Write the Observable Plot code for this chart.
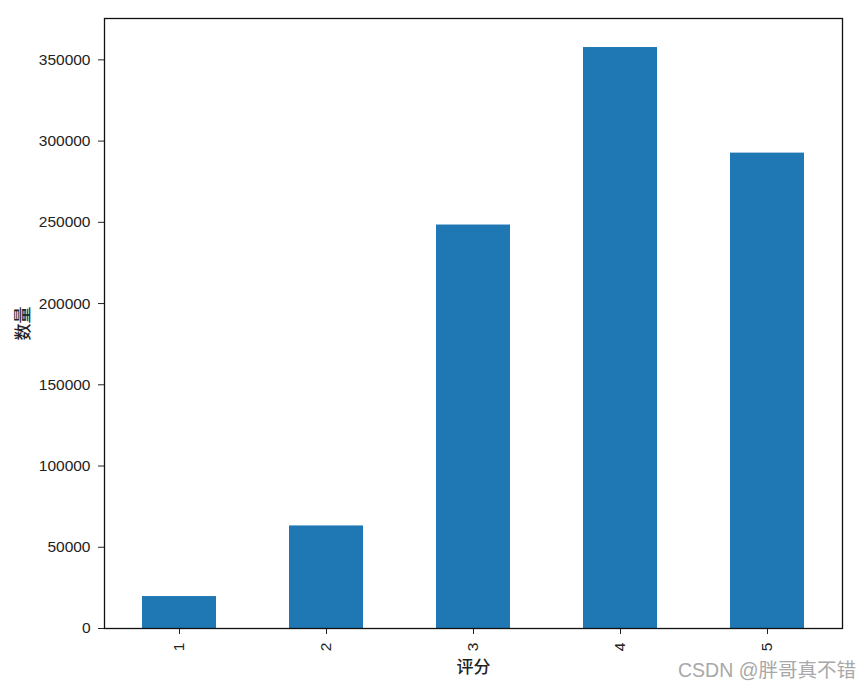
<!DOCTYPE html>
<html>
<head>
<meta charset="utf-8">
<script src="https://cdn.jsdelivr.net/npm/d3@7"></script>
<script src="https://cdn.jsdelivr.net/npm/@observablehq/plot@0.6"></script>
<style>
  html, body { margin: 0; padding: 0; background: #fff; }
  #wrap { position: relative; width: 865px; height: 688px; }
  #wm { position: absolute; left: 678px; top: 654px; font: 19.5px "Liberation Sans", "Noto Sans CJK SC", sans-serif; color: #a8a8a8; white-space: nowrap; }
</style>
</head>
<body>
<div id="wrap"><div id="wm">CSDN @胖哥真不错</div></div>
<script>
const ratings = ["1", "2", "3", "4", "5"];
const counts = [19670, 63130, 248340, 357580, 292600];
const yTicks = [0, 50000, 100000, 150000, 200000, 250000, 300000, 350000];
const xLabel = "评分";
const yLabel = "数量";

const data = ratings.map((r, i) => ({rating: r, count: counts[i]}));
const font = '"Liberation Sans", "Noto Sans CJK SC", sans-serif';

const chart = Plot.plot({
  width: 865,
  height: 688,
  marginLeft: 104,
  marginRight: 23,
  marginTop: 18,
  marginBottom: 60,
  style: {fontFamily: font, fontSize: "15.5px", color: "#222", background: "#fff"},
  x: {domain: ratings, paddingInner: 0.5, paddingOuter: 0.25},
  y: {domain: [0, 375450]},
  marks: [
    Plot.barY(data, {x: "rating", y: "count", fill: "#1f77b4"}),
    Plot.axisY({ticks: yTicks, tickFormat: d => String(d), tickSize: 6, tickPadding: 8, fontSize: 15.5, fill: "#222", label: null}),
    Plot.axisY({ticks: [], label: yLabel, labelAnchor: "center", labelArrow: "none", labelOffset: 88, fontSize: 17, fontWeight: 500, fill: "#222", tickSize: 0}),
    Plot.axisX({tickSize: 6, tickPadding: 8, tickRotate: -90, fontSize: 15.5, fill: "#222", label: null}),
    Plot.axisX({ticks: [], label: xLabel, labelAnchor: "center", labelArrow: "none", labelOffset: 44, fontSize: 17, fontWeight: 500, fill: "#222", tickSize: 0}),
    Plot.frame({stroke: "#111", strokeWidth: 1.3})
  ]
});
document.getElementById("wrap").prepend(chart);
</script>
</body>
</html>
